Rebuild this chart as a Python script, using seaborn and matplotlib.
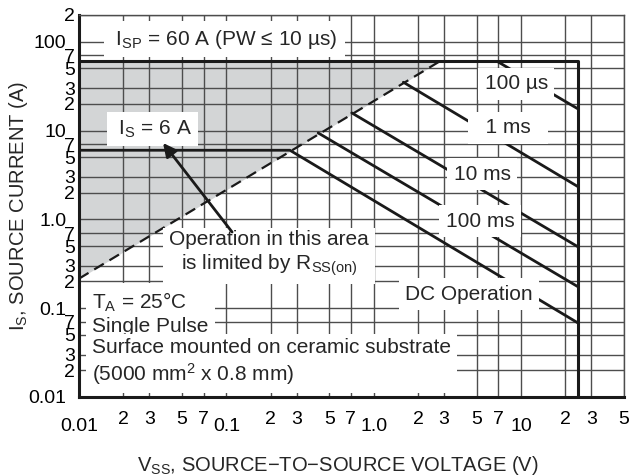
import matplotlib
matplotlib.use("Agg")
import matplotlib.pyplot as plt
import matplotlib.ticker as mticker
import numpy as np
import seaborn as sns

# axis ticks
x_major = [0.01, 0.1, 1.0, 10.0]
x_major_labels = ["0.01", "0.1", "1.0", "10"]
y_major = [0.01, 0.1, 1.0, 10.0, 100.0]
y_major_labels = ["0.01", "0.1", "1.0", "10", "100"]

# I_SP = 60 A pulse limit, then max V_SS
env_v = [0.01, 24.4, 24.4]
env_i = [60.0, 60.0, 0.01]

# R_SS(on) limit (dashed)
rss_v = [0.01, 2.8]
rss_i = [0.215, 60.0]

# DC operation: I_S = 6 A then power limited
dc_v = [0.01, 0.27, 24.4]
dc_i = [6.0, 6.0, 0.068]

# single pulse lines
p100us_v = [6.9, 24.4]
p100us_i = [60.0, 17.5]
p1ms_v = [1.59, 24.4]
p1ms_i = [35.0, 2.33]
p10ms_v = [0.71, 24.4]
p10ms_i = [15.8, 0.49]
p100ms_v = [0.42, 24.4]
p100ms_i = [9.4, 0.174]

LINE = "#1a1a1a"
GRID = "#4d4d4d"


def setup_style():
    sns.set_theme(style="white", context="notebook")
    plt.rcParams["font.family"] = ["Liberation Sans", "DejaVu Sans"]
    plt.rcParams["mathtext.fontset"] = "custom"
    plt.rcParams["mathtext.rm"] = "Liberation Sans"
    plt.rcParams["mathtext.it"] = "Liberation Sans:italic"
    plt.rcParams["mathtext.bf"] = "Liberation Sans:bold"
    plt.rcParams["mathtext.default"] = "regular"


def lead_digit(v, pos):
    return f"{v / 10 ** np.floor(np.log10(v) + 1e-9):.0f}"


setup_style()
fig = plt.figure(figsize=(6.33, 4.76), dpi=100)
ax = fig.add_axes([0.1248, 0.166, 0.861, 0.8025])
ax.set_xscale("log")
ax.set_yscale("log")
ax.set_xlim(0.01, 50)
ax.set_ylim(0.01, 200)

ax.fill_between(rss_v, rss_i, env_i[0], color="#d3d5d6", lw=0, zorder=0.2)

kw = dict(ax=ax, color=LINE, sort=False, estimator=None, legend=False)
sns.lineplot(x=env_v, y=env_i, lw=2.2, **kw)
sns.lineplot(x=dc_v, y=dc_i, lw=2.0, **kw)
for v, i in [(p100us_v, p100us_i), (p1ms_v, p1ms_i),
             (p10ms_v, p10ms_i), (p100ms_v, p100ms_i)]:
    sns.lineplot(x=v, y=i, lw=2.0, **kw)
sns.lineplot(x=rss_v, y=rss_i, lw=1.6, linestyle=(0, (5, 3)), **kw)

# ticks / grid
ax.xaxis.set_major_locator(mticker.FixedLocator(x_major))
ax.xaxis.set_major_formatter(mticker.FixedFormatter(x_major_labels))
ax.yaxis.set_major_locator(mticker.FixedLocator(y_major))
ax.yaxis.set_major_formatter(mticker.FixedFormatter(y_major_labels))
for axis in (ax.xaxis, ax.yaxis):
    axis.set_minor_locator(mticker.LogLocator(base=10, subs=(2, 3, 5, 7), numticks=30))
    axis.set_minor_formatter(mticker.FuncFormatter(lead_digit))
ax.tick_params(which="both", length=0, labelsize=14, colors="black")
ax.tick_params(axis="x", which="major", pad=15)
ax.tick_params(axis="x", which="minor", pad=10)
ax.tick_params(axis="y", which="major", pad=9)
ax.tick_params(axis="y", which="minor", pad=3)
ax.grid(which="both", color=GRID, lw=1)
ax.set_axisbelow(True)
for s in ["left", "bottom"]:
    ax.spines[s].set_color(LINE)
    ax.spines[s].set_linewidth(2.2)
for s in ["top", "right"]:
    ax.spines[s].set_color(GRID)
    ax.spines[s].set_linewidth(1)

ax.set_xlabel(r"V$_{SS}$, SOURCE−TO−SOURCE VOLTAGE (V)", fontsize=14.5)
ax.set_ylabel(r"I$_S$, SOURCE CURRENT (A)", fontsize=14.5)
ax.xaxis.set_label_coords(0.475, -0.15)
ax.yaxis.set_label_coords(-0.09, 0.5)

box = dict(boxstyle="square,pad=0.3", fc="white", ec="none")
tkw = dict(fontsize=15, bbox=box, zorder=3)
ax.text(0.0162, 107, r" I$_{SP}$ = 60 A (PW ≤ 10 µs) ", ha="left", va="center", **tkw)
ax.text(0.017, 10.4, r" I$_S$ = 6 A ", ha="left", va="center", **tkw)
ax.text(9.27, 33.5, "100 µs", ha="center", va="center", **tkw)
ax.text(8.17, 10.7, "  1 ms  ", ha="center", va="center", **tkw)
ax.text(5.45, 3.24, "10 ms", ha="center", va="center", **tkw)
ax.text(5.27, 0.957, "100 ms", ha="center", va="center", **tkw)
ax.text(4.45, 0.144, "DC Operation", ha="center", va="center", **tkw)
ax.text(0.195, 0.407, "Operation in this area\nis limited by R$_{SS(on)}$",
        ha="center", va="center", multialignment="center", **tkw)
ax.text(0.01226, 0.0871, "T$_A$ = 25°C\nSingle Pulse", ha="left", va="center", **tkw)
ax.text(0.01226, 0.0244, "Surface mounted on ceramic substrate\n(5000 mm$^2$ x 0.8 mm)",
        ha="left", va="center", **tkw)

ax.annotate("", xy=(0.0372, 7.24), xytext=(0.1094, 0.72),
            arrowprops=dict(arrowstyle="-|>", color=LINE, lw=2, mutation_scale=20,
                            shrinkA=0, shrinkB=0),
            zorder=4)

fig.savefig("out.png", dpi=100)
plt.close(fig)
